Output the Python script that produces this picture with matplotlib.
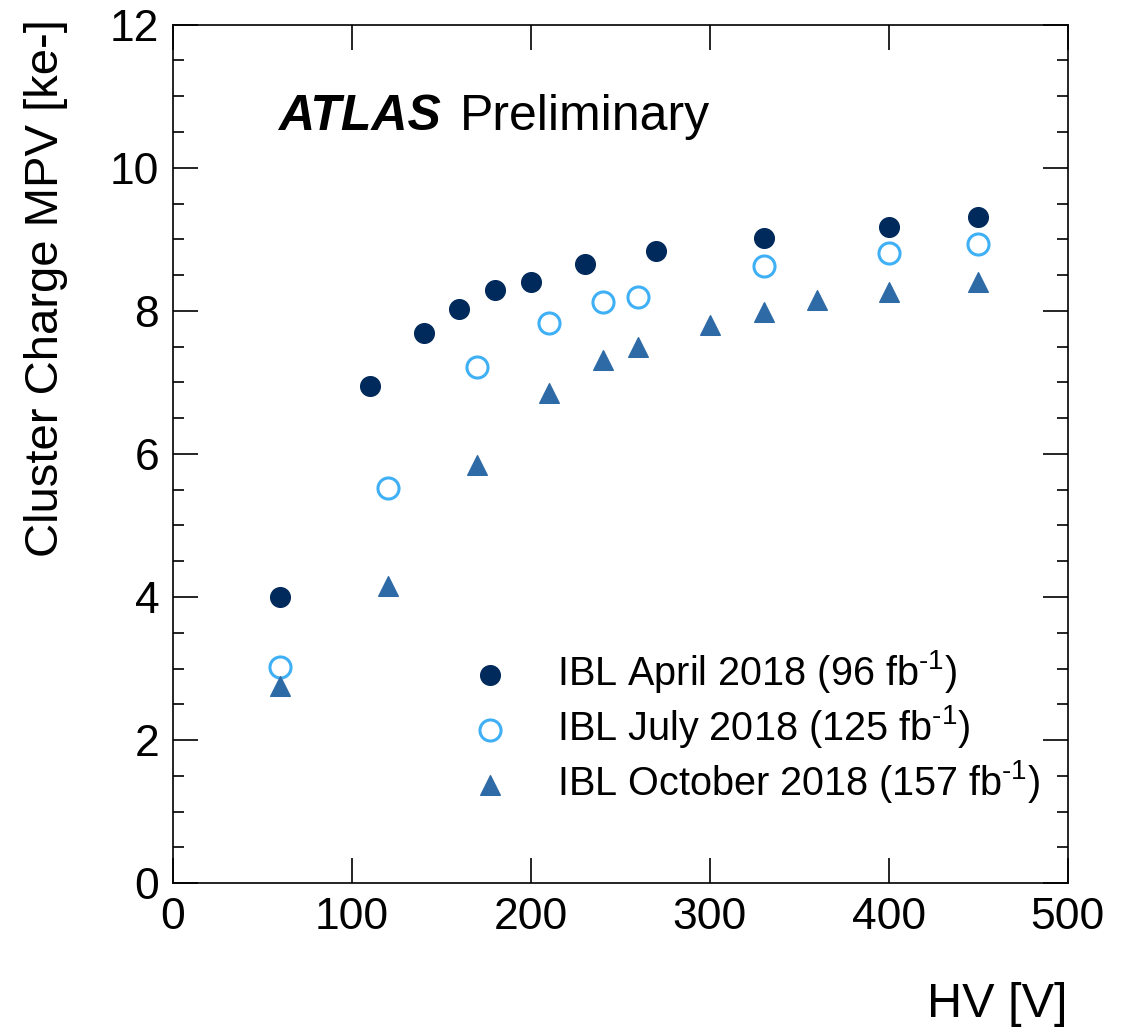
import matplotlib
matplotlib.use("Agg")
import matplotlib.pyplot as plt
from matplotlib.ticker import MultipleLocator

plt.rcParams['font.family'] = ['Liberation Sans', 'DejaVu Sans']
plt.rcParams['mathtext.fontset'] = 'custom'
plt.rcParams['mathtext.rm'] = 'Liberation Sans'
plt.rcParams['mathtext.it'] = 'Liberation Sans:italic'

# data
hv_april = [60, 110, 140, 160, 180, 200, 230, 270, 330, 400, 450]
mpv_april = [4.00, 6.95, 7.69, 8.03, 8.29, 8.41, 8.66, 8.84, 9.02, 9.17, 9.31]

hv_july = [60, 120, 170, 210, 240, 260, 330, 400, 450]
mpv_july = [3.02, 5.52, 7.22, 7.83, 8.13, 8.20, 8.63, 8.81, 8.94]

hv_oct = [60, 120, 170, 210, 240, 260, 300, 330, 360, 400, 450]
mpv_oct = [2.75, 4.15, 5.85, 6.85, 7.31, 7.50, 7.80, 7.99, 8.15, 8.27, 8.41]

labels = ["IBL April 2018 (96 fb$^{\\text{-}1}$)",
          "IBL July 2018 (125 fb$^{\\text{-}1}$)",
          "IBL October 2018 (157 fb$^{\\text{-}1}$)"]

fig = plt.figure(figsize=(11.24, 10.27), dpi=100)
ax = fig.add_axes([0.154, 0.140, 0.796, 0.836])

ax.scatter(hv_april, mpv_april, s=200, marker='o', color='#002a5c', label=labels[0], zorder=3)
ax.scatter(hv_july, mpv_july, s=230, marker='o', facecolors='white', edgecolors='#3fb0f5',
           linewidths=2.2, label=labels[1], zorder=3)
ax.scatter(hv_oct, mpv_oct, s=200, marker='^', color='#2e6aa6', label=labels[2], zorder=3)

ax.set_xlim(0, 500)
ax.set_ylim(0, 12)
ax.xaxis.set_major_locator(MultipleLocator(100))
ax.yaxis.set_major_locator(MultipleLocator(2))
ax.yaxis.set_minor_locator(MultipleLocator(0.5))

ax.tick_params(which='both', direction='in', top=True, right=True, width=1.2, labelsize=32, pad=10)
ax.tick_params(which='major', length=18)
ax.tick_params(which='minor', length=8)
ax.tick_params(axis='x', which='minor', bottom=False, top=False)
for sp in ax.spines.values():
    sp.set_linewidth(1.2)

ax.set_ylabel("Cluster Charge MPV [ke-]", fontsize=34)
ax.yaxis.set_label_coords(-0.118, 1.006)
ax.yaxis.label.set_horizontalalignment('right')
ax.set_xlabel("HV [V]", fontsize=35)
ax.xaxis.set_label_coords(1.0, -0.115)
ax.xaxis.label.set_horizontalalignment('right')

ax.text(0.117, 0.892, "ATLAS", transform=ax.transAxes, fontsize=36, fontweight='bold',
        fontstyle='italic', va='center')
ax.text(0.320, 0.892, "Preliminary", transform=ax.transAxes, fontsize=36, va='center')

ax.legend(loc='lower left', bbox_to_anchor=(0.288, 0.068), frameon=False, fontsize=28.5,
          handletextpad=0.7, labelspacing=0.2, scatterpoints=1, borderpad=0)

fig.savefig("out.png", dpi=100)
